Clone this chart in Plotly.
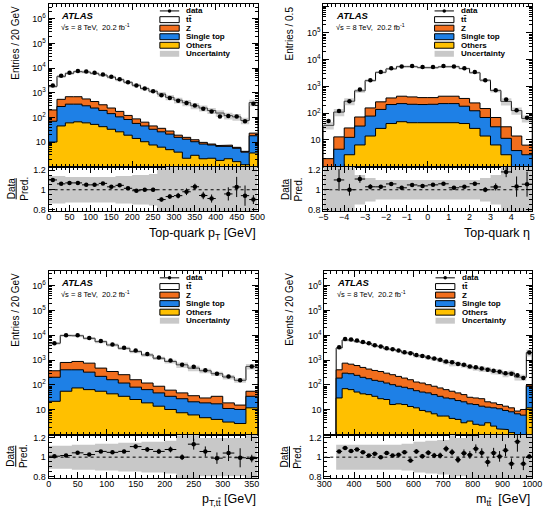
import plotly.graph_objects as go

# ---------------- data ----------------
# Panel 1: top-quark pT, 20 GeV bins 0..500 (last bin incl. overflow)
pt_edges = list(range(0, 520, 20))
pt_ttbar = [1600, 4060, 5410, 6510, 6340, 5660, 4875, 4060, 3225, 2530, 1913, 1416, 1105, 844, 622, 481, 379.5, 282.6, 230.3, 181.7, 142.8, 110.5, 98.9, 70.8, 377]
pt_z = [130, 263, 345, 345, 265, 200, 133, 98, 70, 38, 30, 19, 12, 10, 7, 3.5, 2.5, 2.1, 1.4, 0.7, 0.5, 0.8, 0.5, 0.3, 5]
pt_st = [60, 232, 285, 279, 235, 188, 150, 109, 79, 63, 43, 34.7, 25.4, 19.8, 16.1, 11.6, 10.8, 7.4, 6.2, 5.4, 4.9, 4.6, 4.0, 2.7, 14.4]
pt_oth = [10, 45, 60, 66, 60, 52, 42, 33, 26, 19, 14, 10.3, 7.6, 6.2, 4.9, 3.9, 2.2, 2.9, 2.1, 2.2, 1.8, 2.1, 1.6, 1.2, 3.6]
pt_data = [1980, 4876, 6527, 7704, 7245, 6405, 5538, 4429, 3553, 2690, 1980, 1480, 1150, 792, 605, 470, 387, 304, 226, 173, 108, 113, 108, 70.5, 360]
pt_err = [0.012, 0.01, 0.01, 0.01, 0.01, 0.01, 0.01, 0.012, 0.013, 0.014, 0.015, 0.017, 0.02, 0.022, 0.025, 0.03, 0.035, 0.03, 0.04, 0.045, 0.06, 0.07, 0.1, 0.11, 0.05]
pt_unc = [0.14, 0.14, 0.13, 0.13, 0.13, 0.13, 0.13, 0.13, 0.14, 0.14, 0.15, 0.15, 0.16, 0.22, 0.24, 0.26, 0.28, 0.28, 0.28, 0.28, 0.3, 0.3, 0.3, 0.3, 0.3]

# Panel 2: top-quark eta, 0.5 bins -5..5
eta_edges = [-5 + 0.5 * i for i in range(21)]
eta_ttbar = [33, 97, 252, 613, 1493, 3085, 4160, 5060, 5075, 4678, 4628, 4990, 5060, 4305, 3008, 1551, 631, 244, 111, 57]
eta_z = [1.0, 8.5, 15.5, 39, 79, 127, 160, 202, 190, 172, 167, 202, 202, 173, 119, 80, 38, 19.5, 10, 3.6]
eta_st = [0.9, 4.0, 9.7, 26.5, 64, 111, 169, 180, 171, 166, 170, 183, 184, 141, 96, 55, 24.5, 8.7, 3.5, 2.5]
eta_oth = [0.1, 0.5, 2.8, 6.5, 14, 27, 41, 48, 44, 44, 45, 45, 44, 41, 27, 14, 6.5, 2.8, 0.5, 0.3]
eta_data = [51, 121, 280, 760, 1700, 3450, 4800, 5600, 5750, 5260, 5260, 5750, 5600, 4800, 3450, 1700, 720, 325, 129, 67]
eta_err = [0.14, 0.1, 0.06, 0.035, 0.025, 0.018, 0.015, 0.014, 0.014, 0.014, 0.014, 0.014, 0.014, 0.015, 0.018, 0.025, 0.035, 0.045, 0.1, 0.12]
eta_unc = [0.3, 0.3, 0.3, 0.15, 0.12, 0.1, 0.1, 0.1, 0.1, 0.1, 0.1, 0.1, 0.1, 0.1, 0.1, 0.12, 0.15, 0.3, 0.3, 0.3]

# Panel 3: pT of ttbar system, 20 GeV bins 0..360
ptt_edges = list(range(0, 380, 20))
ptt_ttbar = [4425, 9090, 8810, 6840, 5120, 3750, 2740, 2067, 1510, 1111, 828, 602, 443, 345, 250, 191, 139.5, 504]
ptt_z = [170, 400, 480, 430, 257, 187, 140, 81, 55, 41, 27, 20, 16, 11, 17.6, 7.7, 5.2, 21]
ptt_st = [183, 354, 334, 265, 167, 119, 85, 56, 46, 34, 24.7, 20.4, 14.8, 14.2, 13.3, 8.1, 7.5, 23]
ptt_oth = [22, 56, 76, 65, 56, 44, 35, 26, 19, 14, 10.3, 7.6, 6.2, 4.8, 4.1, 3.2, 2.8, 12]
ptt_data = [4848, 10068, 10137, 7805, 5936, 4305, 3180, 2475, 1760, 1272, 961, 650, 545, 397, 282, 219, 154, 552]
ptt_err = [0.01, 0.01, 0.01, 0.012, 0.013, 0.015, 0.017, 0.02, 0.022, 0.025, 0.028, 0.03, 0.05, 0.05, 0.06, 0.08, 0.1, 0.04]
ptt_unc = [0.12, 0.12, 0.13, 0.13, 0.14, 0.14, 0.15, 0.15, 0.16, 0.16, 0.17, 0.25, 0.25, 0.2, 0.2, 0.2, 0.2, 0.25]

# Panel 4: m(ttbar), 20 GeV bins 340..1000
mtt_edges = list(range(340, 1020, 20))
mtt_ttbar = [2703, 5724, 5801, 5084, 4623, 4280, 3480, 3190, 2598, 2444, 2171, 1797, 1806, 1406, 1355, 1160, 1061, 937, 754, 733, 682, 583, 515, 453, 417, 411, 340, 321, 266, 294, 202, 194, 1916]
mtt_z = [220, 460, 405, 365, 306, 261, 231, 209, 180, 157, 133, 109, 92, 73, 68, 55, 48, 41, 35, 28, 24.4, 20, 14.6, 13.7, 14, 8.2, 7, 5.3, 4.6, 3.7, 2.0, 4.2, 12]
mtt_st = [160, 229, 220, 193, 160, 138, 119, 113, 94, 86.7, 71.6, 64.7, 57.4, 47, 42.6, 39.7, 34.1, 29.4, 24.4, 23.5, 19.5, 18, 13.9, 13.7, 11.6, 9.8, 9.8, 9.3, 7.8, 7.1, 5.9, 5.2, 76]
mtt_oth = [30, 71, 65, 52, 44, 41, 35, 28, 26, 16.3, 17.4, 16.3, 13.6, 12, 9.4, 8.3, 6.9, 5.6, 5.6, 4.5, 4.1, 3.0, 3.5, 2.6, 2.4, 3.0, 2.2, 1.7, 1.6, 1.2, 1.0, 0.9, 12]
mtt_data = [3300, 7100, 6900, 6150, 5400, 4800, 4000, 3540, 3020, 2750, 2450, 2090, 1900, 1630, 1490, 1320, 1170, 1030, 890, 830, 710, 650, 560, 525, 465, 410, 375, 340, 300, 285, 245, 190, 2030]
mtt_err = [0.015, 0.01, 0.01, 0.01, 0.012, 0.012, 0.013, 0.014, 0.015, 0.016, 0.017, 0.018, 0.02, 0.022, 0.023, 0.025, 0.027, 0.03, 0.03, 0.032, 0.035, 0.037, 0.04, 0.042, 0.045, 0.05, 0.05, 0.055, 0.058, 0.06, 0.09, 0.07, 0.022]
mtt_unc = [0.13, 0.13, 0.13, 0.13, 0.13, 0.13, 0.13, 0.13, 0.13, 0.13, 0.13, 0.14, 0.14, 0.16, 0.16, 0.17, 0.17, 0.18, 0.18, 0.3, 0.2, 0.2, 0.22, 0.22, 0.24, 0.24, 0.25, 0.25, 0.26, 0.26, 0.28, 0.28, 0.3]

TTBAR = "t<span style='text-decoration:overline'>t</span>"
legend_labels = ["data", TTBAR, "Z", "Single top", "Others", "Uncertainty"]

# ---------------- style ----------------
W, H = 550, 515
FONT = "Liberation Sans, Arial, Helvetica, sans-serif"
C_TT = "white"
C_Z = "#F26E1D"
C_ST = "#1E80E6"
C_OTH = "#FFC000"
C_UNC = "#C8C8C8"

panels = [
    dict(edges=pt_edges, comps=[pt_ttbar, pt_z, pt_st, pt_oth], data=pt_data, err=pt_err, unc=pt_unc,
         L=42, R=258, T=3, M=167, B=212, xr=[0, 500], yr=[0, 6.6], dt=50, mdt=10,
         ylab="Entries / 20 GeV", ylx=8, xlab="Top-quark p<sub>T</sub> [GeV]", xlb=245),
    dict(edges=eta_edges, comps=[eta_ttbar, eta_z, eta_st, eta_oth], data=eta_data, err=eta_err, unc=eta_unc,
         L=326, R=542, T=3, M=167, B=212, xr=[-5, 5], yr=[0, 6.08], dt=1, mdt=0.2,
         ylab="Entries / 0.5", ylx=292, xlab="Top-quark \u03b7", xlb=243),
    dict(edges=ptt_edges, comps=[ptt_ttbar, ptt_z, ptt_st, ptt_oth], data=ptt_data, err=ptt_err, unc=ptt_unc,
         L=42, R=258, T=272, M=437, B=481, xr=[0, 360], yr=[0, 6.6], dt=50, mdt=10,
         ylab="Entries / 20 GeV", ylx=8, xlab="p<sub>T," + TTBAR + "</sub> [GeV]", xlb=513),
    dict(edges=mtt_edges, comps=[mtt_ttbar, mtt_z, mtt_st, mtt_oth], data=mtt_data, err=mtt_err, unc=mtt_unc,
         L=327, R=542, T=272, M=437, B=481, xr=[300, 1000], yr=[0, 6.6], dt=100, mdt=20,
         ylab="Events / 20 GeV", ylx=291, xlab="m<sub>" + TTBAR + "</sub>  [GeV]", xlb=513),
]


def fx(px):
    return px / W


def fy(py):
    return 1 - py / H


def step_poly(edges, vals, floor):
    xs, ys = [edges[0]], [floor]
    for i, v in enumerate(vals):
        xs += [edges[i], edges[i + 1]]
        ys += [v, v]
    xs.append(edges[-1])
    ys.append(floor)
    return xs, ys


def band_poly(edges, lo, hi):
    xs, ys = [], []
    n = len(lo)
    for i in range(n):
        xs += [edges[i], edges[i + 1]]
        ys += [hi[i], hi[i]]
    for i in reversed(range(n)):
        xs += [edges[i + 1], edges[i]]
        ys += [lo[i], lo[i]]
    return xs, ys


fig = go.Figure()
layout = {}
annotations = []
shapes = []

axis_common = dict(showline=True, linecolor="black", linewidth=1, mirror="allticks",
                   ticks="inside", tickcolor="black", ticklen=6, tickwidth=1,
                   showgrid=False, zeroline=False,
                   tickfont=dict(family=FONT, size=9, color="black"))

for k, P in enumerate(panels):
    mi, ri = 2 * k + 1, 2 * k + 2
    xm = "x" if mi == 1 else f"x{mi}"
    ym = "y" if mi == 1 else f"y{mi}"
    xrn, yrn = f"x{ri}", f"y{ri}"
    edges = P["edges"]
    ttbar, z, st, oth = P["comps"]
    n = len(ttbar)
    c_oth = list(oth)
    c_st = [c_oth[i] + st[i] for i in range(n)]
    c_z = [c_st[i] + z[i] for i in range(n)]
    total = [c_z[i] + ttbar[i] for i in range(n)]
    centers = [(edges[i] + edges[i + 1]) / 2 for i in range(n)]
    halfw = [(edges[i + 1] - edges[i]) / 2 for i in range(n)]

    # stacked step histograms (drawn top layer first)
    for vals, col in [(total, C_TT), (c_z, C_Z), (c_st, C_ST), (c_oth, C_OTH)]:
        xs, ys = step_poly(edges, vals, 0.05)
        fig.add_trace(go.Scatter(x=xs, y=ys, mode="lines", fill="toself", fillcolor=col,
                                 line=dict(color="black", width=1), xaxis=xm, yaxis=ym,
                                 hoverinfo="skip", showlegend=False))
    # uncertainty band on total
    lo = [total[i] * (1 - P["unc"][i]) for i in range(n)]
    hi = [total[i] * (1 + P["unc"][i]) for i in range(n)]
    xs, ys = band_poly(edges, lo, hi)
    fig.add_trace(go.Scatter(x=xs, y=ys, mode="lines", fill="toself", fillcolor="rgba(150,150,150,0.45)",
                             line=dict(width=0), xaxis=xm, yaxis=ym, hoverinfo="skip", showlegend=False))
    # data
    data = P["data"]
    fig.add_trace(go.Scatter(x=centers, y=data, mode="markers",
                             marker=dict(color="black", size=4.5),
                             error_y=dict(type="data", array=[data[i] * P["err"][i] for i in range(n)],
                                          color="black", thickness=1, width=0),
                             xaxis=xm, yaxis=ym, hoverinfo="skip", showlegend=False))

    # ratio panel
    rlo = [1 - u for u in P["unc"]]
    rhi = [1 + u for u in P["unc"]]
    xs, ys = band_poly(edges, rlo, rhi)
    fig.add_trace(go.Scatter(x=xs, y=ys, mode="lines", fill="toself", fillcolor=C_UNC,
                             line=dict(width=0), xaxis=xrn, yaxis=yrn, hoverinfo="skip", showlegend=False))
    ratio = [data[i] / total[i] for i in range(n)]
    fig.add_trace(go.Scatter(x=centers, y=ratio, mode="markers",
                             marker=dict(color="black", size=4.5),
                             error_y=dict(type="data", array=[ratio[i] * P["err"][i] for i in range(n)],
                                          color="black", thickness=1, width=0),
                             error_x=dict(type="data", array=halfw, color="black", thickness=1, width=0),
                             xaxis=xrn, yaxis=yrn, hoverinfo="skip", showlegend=False))
    shapes.append(dict(type="line", xref=xrn, yref=yrn, x0=P["xr"][0], x1=P["xr"][1], y0=1, y1=1,
                       line=dict(color="black", width=1, dash="dot")))

    dom_x = [fx(P["L"]), fx(P["R"])]
    # main axes
    layout["xaxis" if mi == 1 else f"xaxis{mi}"] = dict(
        axis_common, domain=dom_x, anchor=ym, range=P["xr"], showticklabels=False, matches=xrn,
        minor=dict(ticks="inside", ticklen=3, tickcolor="black", dtick=P["mdt"], showgrid=False))
    layout["yaxis" if mi == 1 else f"yaxis{mi}"] = dict(
        axis_common, domain=[fy(P["M"]), fy(P["T"])], anchor=xm, type="log", range=P["yr"],
        tickmode="array", tickvals=[10, 100, 1e3, 1e4, 1e5, 1e6],
        ticktext=["10", "10<sup>2</sup>", "10<sup>3</sup>", "10<sup>4</sup>", "10<sup>5</sup>", "10<sup>6</sup>"],
        minor=dict(ticks="inside", ticklen=3, tickcolor="black", dtick="D1", showgrid=False))
    # ratio axes
    layout[f"xaxis{ri}"] = dict(
        axis_common, domain=dom_x, anchor=yrn, range=P["xr"], dtick=P["dt"], tick0=0,
        ticklabelstandoff=-3,
        minor=dict(ticks="inside", ticklen=3, tickcolor="black", dtick=P["mdt"], showgrid=False))
    layout[f"yaxis{ri}"] = dict(
        axis_common, domain=[fy(P["B"]), fy(P["M"])], anchor=xrn, range=[0.78, 1.235],
        tickmode="array", tickvals=[0.8, 1.0, 1.2], ticktext=["0.8", "1", "1.2"],
        minor=dict(ticks="inside", ticklen=3, tickcolor="black", dtick=0.05, tick0=0, showgrid=False))

    # axis titles
    annotations.append(dict(xref="paper", yref="paper", x=fx(P["R"]), y=fy(P["xlb"]), xanchor="right",
                            yanchor="bottom", text=P["xlab"], showarrow=False,
                            font=dict(family=FONT, size=12.5, color="black")))
    annotations.append(dict(xref="paper", yref="paper", x=fx(P["ylx"]), y=fy(P["T"]), xanchor="center",
                            yanchor="top", text=P["ylab"], textangle=-90, showarrow=False,
                            font=dict(family=FONT, size=10, color="black")))
    annotations.append(dict(xref="paper", yref="paper", x=fx(P["ylx"] + 2), y=fy((P["M"] + P["B"]) / 2),
                            xanchor="center", yanchor="middle", text="<u>Data</u><br>Pred.", textangle=-90,
                            showarrow=False, align="center",
                            font=dict(family=FONT, size=10, color="black")))
    # ATLAS label
    L, T = P["L"], P["T"]
    annotations.append(dict(xref="paper", yref="paper", x=fx(L + 11), y=fy(T + 12), xanchor="left",
                            yanchor="middle", text="<b><i>ATLAS</i></b>", showarrow=False,
                            font=dict(family=FONT, size=9.5, color="black")))
    annotations.append(dict(xref="paper", yref="paper", x=fx(L + 11), y=fy(T + 23), xanchor="left",
                            yanchor="middle", text="\u221as = 8 TeV,  20.2 fb<sup>-1</sup>", showarrow=False,
                            font=dict(family=FONT, size=7.5, color="black")))
    # legend
    rows = [7, 15.8, 24.4, 33, 41.6, 50.2]
    fills = [None, C_TT, C_Z, C_ST, C_OTH, C_UNC]
    for j, lab in enumerate(legend_labels):
        yc = T + rows[j]
        if j == 0:
            shapes.append(dict(type="line", xref="paper", yref="paper", x0=fx(L + 115), x1=fx(L + 135),
                               y0=fy(yc), y1=fy(yc), line=dict(color="black", width=1)))
            shapes.append(dict(type="circle", xref="paper", yref="paper", x0=fx(L + 123.2), x1=fx(L + 126.8),
                               y0=fy(yc + 1.8), y1=fy(yc - 1.8), fillcolor="black", line=dict(width=0)))
        elif j == 5:
            shapes.append(dict(type="rect", xref="paper", yref="paper", x0=fx(L + 115), x1=fx(L + 135),
                               y0=fy(yc + 3), y1=fy(yc - 3), fillcolor=C_UNC, line=dict(width=0)))
        else:
            shapes.append(dict(type="rect", xref="paper", yref="paper", x0=fx(L + 115), x1=fx(L + 135),
                               y0=fy(yc + 3), y1=fy(yc - 3), fillcolor=fills[j],
                               line=dict(color="black", width=1)))
        annotations.append(dict(xref="paper", yref="paper", x=fx(L + 140), y=fy(yc), xanchor="left",
                                yanchor="middle", text="<b>" + lab + "</b>", showarrow=False,
                                font=dict(family=FONT, size=8, color="black")))

fig.update_layout(
    width=W, height=H, margin=dict(l=0, r=0, t=0, b=0),
    paper_bgcolor="white", plot_bgcolor="white", showlegend=False,
    font=dict(family=FONT, color="black"),
    annotations=annotations, shapes=shapes, **layout)

fig.write_html("out.html")
